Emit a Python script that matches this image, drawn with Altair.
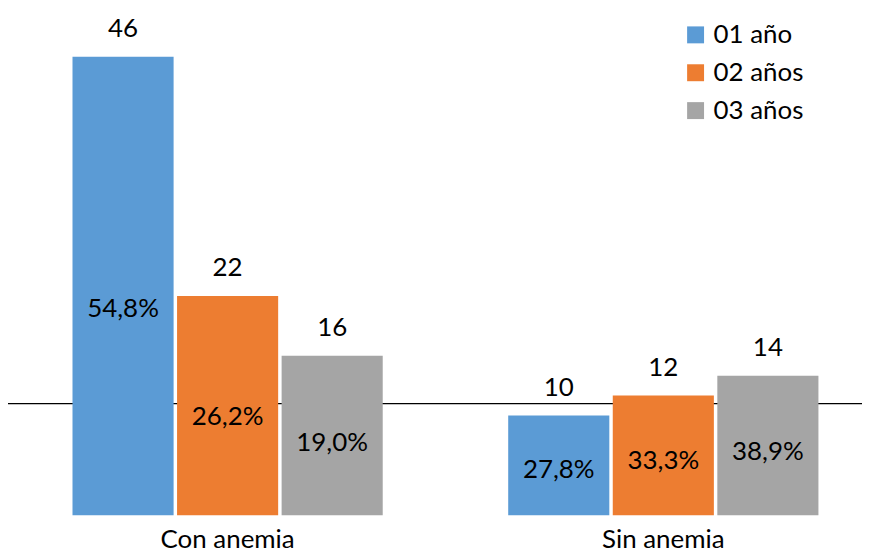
import altair as alt
import pandas as pd

categories = ["Con anemia", "Sin anemia"]
series = ["01 año", "02 años", "03 años"]
counts_01 = [46, 10]
counts_02 = [22, 12]
counts_03 = [16, 14]
pct_01 = [54.8, 27.8]
pct_02 = [26.2, 33.3]
pct_03 = [19.0, 38.9]
colors = ["#5B9BD5", "#ED7D31", "#A5A5A5"]
ref_line_value = 11.2

rows = []
for s, cnts, pcts in zip(series, [counts_01, counts_02, counts_03], [pct_01, pct_02, pct_03]):
    for c, n, p in zip(categories, cnts, pcts):
        rows.append({
            "categoria": c,
            "serie": s,
            "n": n,
            "pct": f"{p:.1f}".replace(".", ",") + "%",
        })
df = pd.DataFrame(rows)

FONT = "Lato"
FS = 26

x_enc = alt.X(
    "categoria:N",
    sort=categories,
    scale=alt.Scale(paddingInner=0.288, paddingOuter=0.1),
    axis=alt.Axis(
        title=None, domain=False, ticks=False, labelAngle=0,
        labelFontSize=FS, labelFont=FONT, labelColor="#000000",
        labelPadding=11, labelBaseline="top",
    ),
)
xoff = alt.XOffset("serie:N", sort=series, scale=alt.Scale(paddingInner=0.033, paddingOuter=0))
y_scale = alt.Scale(domain=[0, 48])

base = alt.Chart(df)

rule = alt.Chart(pd.DataFrame({"v": [ref_line_value]})).mark_rule(
    color="#000000", strokeWidth=1.3
).encode(
    y=alt.Y("v:Q", scale=y_scale, axis=None),
    x=alt.value(-21),
    x2=alt.value(842),
)

bars = base.mark_bar(cornerRadius=0).encode(
    x=x_enc,
    xOffset=xoff,
    y=alt.Y("n:Q", scale=y_scale, axis=None),
    color=alt.Color(
        "serie:N",
        sort=series,
        scale=alt.Scale(domain=series, range=colors),
        legend=alt.Legend(
            title=None, orient="none", legendX=656, legendY=-15,
            symbolType="square", symbolSize=289, symbolStrokeWidth=0,
            labelFontSize=FS, labelFont=FONT, labelColor="#000000",
            labelOffset=5, rowPadding=12, padding=0,
        ),
    ),
)

count_text = base.mark_text(
    font=FONT, fontSize=FS, color="#000000", baseline="alphabetic", dy=-20
).encode(
    x=x_enc,
    xOffset=xoff,
    y=alt.Y("n:Q", scale=y_scale, axis=None),
    text="n:Q",
)

pct_text = base.transform_calculate(
    pos="datum.n * 0.45"
).mark_text(
    font=FONT, fontSize=FS, color="#000000", baseline="middle"
).encode(
    x=x_enc,
    xOffset=xoff,
    y=alt.Y("pos:Q", scale=y_scale, axis=None),
    text="pct:N",
)

chart = alt.layer(rule, bars, count_text, pct_text).properties(
    width=836,
    height=480,
    autosize=alt.AutoSizeParams(type="none"),
    padding={"left": 21, "top": 28, "right": 0, "bottom": 42},
).configure(background="white").configure_view(stroke=None, strokeWidth=0)

chart.save("out.html", embed_options={"renderer": "svg", "actions": False})
